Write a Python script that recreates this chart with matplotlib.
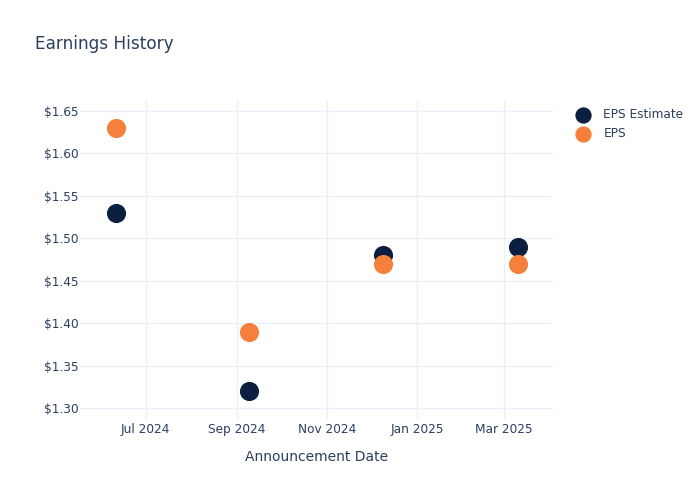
import matplotlib
matplotlib.use("Agg")
import matplotlib.pyplot as plt
import matplotlib.dates as mdates
from matplotlib.ticker import FuncFormatter, MultipleLocator
from datetime import datetime

dates = ["2024-06-11", "2024-09-09", "2024-12-09", "2025-03-10"]
eps_estimate = [1.53, 1.32, 1.48, 1.49]
eps_actual = [1.63, 1.39, 1.47, 1.47]
series_names = ["EPS Estimate", "EPS"]

x = [datetime.strptime(d, "%Y-%m-%d") for d in dates]

text_color = "#2a3f5f"
grid_color = "#ebf0f8"
navy = "#0b1f41"
orange = "#f5803b"

fig = plt.figure(figsize=(7, 5), dpi=100)
ax = fig.add_axes([80/700, 80/500, 473/700, 320/500])

ax.scatter(x, eps_estimate, s=190, color=navy, label=series_names[0], zorder=3, linewidths=0)
ax.scatter(x, eps_actual, s=190, color=orange, label=series_names[1], zorder=4, linewidths=0)

ax.set_xlim(datetime(2024, 5, 17, 12), datetime(2025, 4, 3))
ax.set_ylim(1.286, 1.663)

ax.yaxis.set_major_locator(MultipleLocator(0.05))
ax.yaxis.set_major_formatter(FuncFormatter(lambda v, p: f"${v:.2f}"))
ax.xaxis.set_major_locator(mdates.MonthLocator(bymonth=[1, 3, 5, 7, 9, 11]))
ax.xaxis.set_major_formatter(mdates.DateFormatter("%b %Y"))

ax.grid(True, color=grid_color, linewidth=1)
ax.set_axisbelow(True)
for s in ax.spines.values():
    s.set_visible(False)
ax.tick_params(length=0, labelsize=8.7, colors=text_color)
ax.tick_params(axis="y", pad=1.0)
ax.tick_params(axis="x", pad=2.5)
for lbl in ax.get_xticklabels() + ax.get_yticklabels():
    lbl.set_color(text_color)

ax.set_xlabel("Announcement Date", fontsize=10, color=text_color, labelpad=10)

fig.text(35/700, 1 - 44/500, "Earnings History", fontsize=12.15, color=text_color, va="center", ha="left")

leg = fig.legend(loc="upper left", bbox_to_anchor=(566/700, 1 - 103/500), frameon=False,
                 fontsize=8.7, labelcolor=text_color, handletextpad=0.7, labelspacing=0.55,
                 markerscale=0.85, borderaxespad=0)

fig.savefig("out.png", dpi=100)
